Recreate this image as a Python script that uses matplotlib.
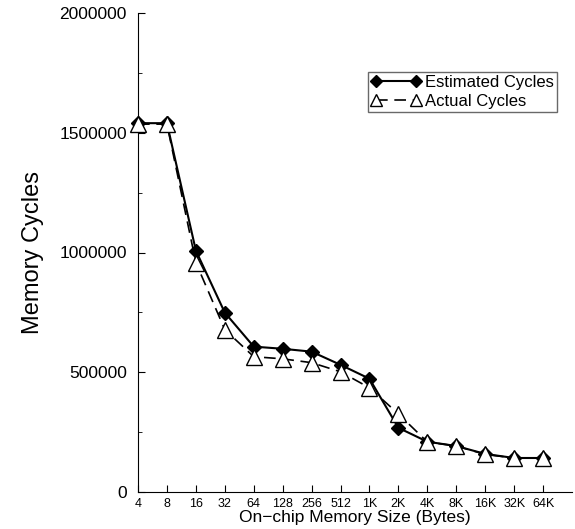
import matplotlib
matplotlib.use('Agg')
import matplotlib.pyplot as plt
from matplotlib.ticker import MultipleLocator, StrMethodFormatter

plt.rcParams['font.family'] = ['Liberation Sans', 'DejaVu Sans']

sizes = ['4', '8', '16', '32', '64', '128', '256', '512', '1K', '2K', '4K', '8K', '16K', '32K', '64K']
estimated = [1540000, 1540000, 1008000, 749000, 607000, 598000, 586000, 531000, 473000, 268000,
             210000, 192000, 159000, 142000, 142000]
actual = [1536000, 1536000, 958000, 678000, 565000, 556000, 540000, 502000, 435000, 326000,
          209000, 192000, 157000, 142000, 142000]

x = list(range(len(sizes)))

fig = plt.figure(figsize=(5.75, 5.29), dpi=100)
ax = fig.add_axes([138 / 575, 37 / 529, 434 / 575, 479 / 529])

ax.plot(x, estimated, color='black', linewidth=1.5, marker='D', markersize=7.5,
        markerfacecolor='black', markeredgecolor='black', label='Estimated Cycles',
        clip_on=False, zorder=3)
ax.plot(x, actual, color='black', linewidth=1.2, dashes=(7, 4), marker='^', markersize=11,
        markerfacecolor='white', markeredgecolor='black', markeredgewidth=1.0,
        label='Actual Cycles', clip_on=False, zorder=4)

ax.set_xlim(0, 15)
ax.set_ylim(0, 2000000)
ax.set_xticks(x)
ax.set_xticklabels(sizes, fontsize=9)
ax.yaxis.set_major_locator(MultipleLocator(500000))
ax.yaxis.set_minor_locator(MultipleLocator(250000))
ax.yaxis.set_major_formatter(StrMethodFormatter('{x:.0f}'))
ax.tick_params(axis='y', labelsize=12.5, direction='in', length=5, pad=8)
ax.tick_params(axis='y', which='minor', direction='in', length=3)
ax.tick_params(axis='x', direction='in', length=5, pad=4)

for side in ['top', 'right']:
    ax.spines[side].set_visible(False)

ax.set_xlabel('On\u2212chip Memory Size (Bytes)', fontsize=12.5, labelpad=0)
ax.set_ylabel('Memory Cycles', fontsize=17, labelpad=11)

leg = ax.legend(loc='upper right', bbox_to_anchor=(0.965, 0.877), fontsize=12,
                frameon=True, fancybox=False, numpoints=2, markerscale=0.75,
                handlelength=3, handletextpad=0.2, borderpad=0.2, labelspacing=0.2,
                borderaxespad=0)
leg.get_frame().set_edgecolor('#444444')
leg.get_frame().set_linewidth(1.0)

fig.savefig('out.png', dpi=100)
